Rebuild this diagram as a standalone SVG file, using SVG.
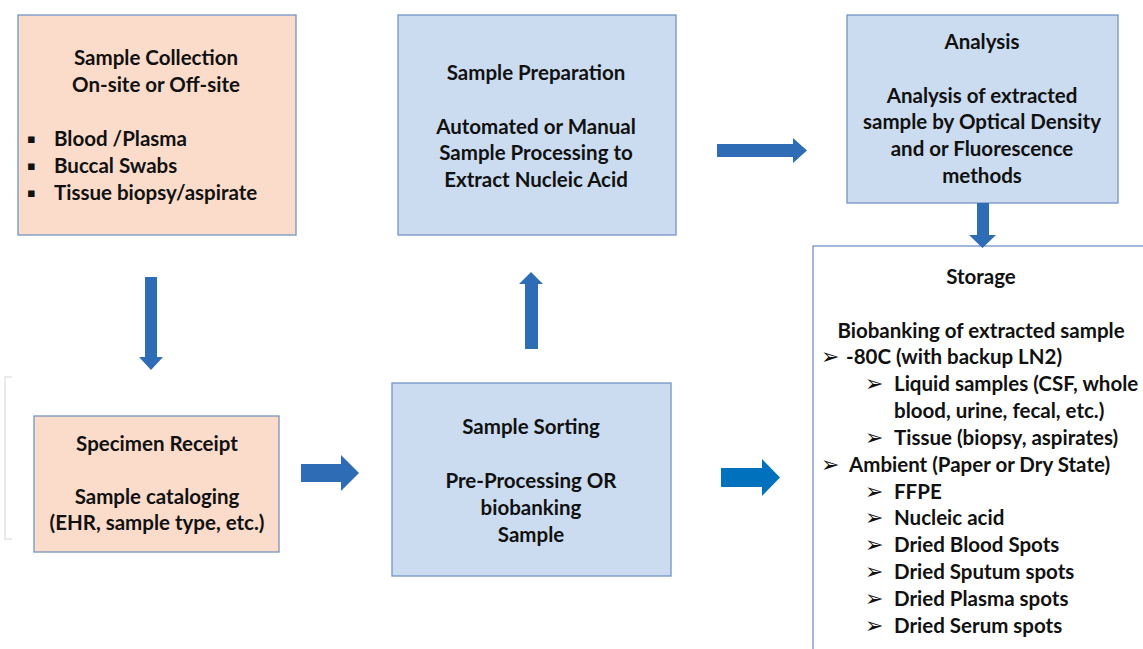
<svg xmlns="http://www.w3.org/2000/svg" width="1143" height="649" viewBox="0 0 1143 649">
<style>
.peach{fill:#FBDCCB;stroke:#7394C6;stroke-width:1.3}
.blue{fill:#CBDCF0;stroke:#7394C6;stroke-width:1.3}
.store{fill:#FFFFFF;stroke:#7394C6;stroke-width:1.3}
text{font-family:Lato,"Open Sans","Liberation Sans",sans-serif;font-weight:bold;font-size:20.5px;fill:#111111}
.c{text-anchor:middle}
.sq{font-family:"DejaVu Sans",sans-serif;font-size:13px}
.ar{font-family:"DejaVu Sans",sans-serif;font-size:22px;font-weight:normal}
.arw{fill:#2E6DB5}
.arw2{fill:#0071BD}
</style>
<rect width="1143" height="649" fill="#FFFFFF"/>
<path d="M12,377 H5 V539 H12" fill="none" stroke="#E3E3E3" stroke-width="1.5"/>
<g id="collection">
<rect class="peach" x="18" y="15" width="278" height="220"/>
<text class="c" x="156" y="65">Sample Collection</text>
<text class="c" x="156" y="92">On-site or Off-site</text>
<text class="sq" x="27" y="143">▪</text>
<text class="sq" x="27" y="170">▪</text>
<text class="sq" x="27" y="197">▪</text>
<text x="54" y="146">Blood /Plasma</text>
<text x="54" y="173">Buccal Swabs</text>
<text x="54" y="200">Tissue biopsy/aspirate</text>
</g>
<g id="preparation">
<rect class="blue" x="398" y="15" width="278" height="220"/>
<text class="c" x="536" y="80">Sample Preparation</text>
<text class="c" x="536" y="134">Automated or Manual</text>
<text class="c" x="536" y="160">Sample Processing to</text>
<text class="c" x="536" y="187">Extract Nucleic Acid</text>
</g>
<g id="analysis">
<rect class="blue" x="847" y="15" width="271" height="188"/>
<text class="c" x="982" y="49">Analysis</text>
<text class="c" x="982" y="103">Analysis of extracted</text>
<text class="c" x="982" y="129">sample by Optical Density</text>
<text class="c" x="982" y="156">and or Fluorescence</text>
<text class="c" x="982" y="183">methods</text>
</g>
<g id="receipt">
<rect class="peach" x="34" y="416" width="245" height="136"/>
<text class="c" x="157" y="451">Specimen Receipt</text>
<text class="c" x="157" y="504">Sample cataloging</text>
<text class="c" x="157" y="530">(EHR, sample type, etc.)</text>
</g>
<g id="sorting">
<rect class="blue" x="392" y="383" width="279" height="193"/>
<text class="c" x="531" y="434">Sample Sorting</text>
<text class="c" x="531" y="488">Pre-Processing OR</text>
<text class="c" x="531" y="515">biobanking</text>
<text class="c" x="531" y="542">Sample</text>
</g>
<g id="storage">
<rect class="store" x="813" y="246" width="360" height="430"/>
<text class="c" x="981" y="284">Storage</text>
<text class="c" x="981" y="338">Biobanking of extracted sample</text>
<text class="ar" x="821" y="364">➢</text>
<text x="846" y="364">-80C (with backup LN2)</text>
<text class="ar" x="865" y="391">➢</text>
<text x="894" y="391">Liquid samples (CSF, whole</text>
<text x="894" y="418">blood, urine, fecal, etc.)</text>
<text class="ar" x="865" y="445">➢</text>
<text x="894" y="445">Tissue (biopsy, aspirates)</text>
<text class="ar" x="821" y="472">➢</text>
<text x="849" y="472">Ambient (Paper or Dry State)</text>
<text class="ar" x="865" y="499">➢</text>
<text x="894" y="499">FFPE</text>
<text class="ar" x="865" y="525">➢</text>
<text x="894" y="525">Nucleic acid</text>
<text class="ar" x="865" y="552">➢</text>
<text x="894" y="552">Dried Blood Spots</text>
<text class="ar" x="865" y="579">➢</text>
<text x="894" y="579">Dried Sputum spots</text>
<text class="ar" x="865" y="606">➢</text>
<text x="894" y="606">Dried Plasma spots</text>
<text class="ar" x="865" y="633">➢</text>
<text x="894" y="633">Dried Serum spots</text>
</g>
<g id="connectors">
<polygon class="arw" points="145,277 157,277 157,357 163,357 151,370 139,357 145,357"/>
<polygon class="arw" points="525,349 538,349 538,284 543,284 531,272 519,284 525,284"/>
<polygon class="arw" points="717,144 793,144 793,138 807,150.5 793,163 793,157 717,157"/>
<polygon class="arw" points="977,203 989,203 989,235 996,235 982.5,248 969,235 977,235"/>
<polygon class="arw" points="301,464 341,464 341,455 359,473 341,491 341,482 301,482"/>
<polygon class="arw2" points="721,468 762,468 762,459 780,477.5 762,496 762,487 721,487"/>
</g>
</svg>
